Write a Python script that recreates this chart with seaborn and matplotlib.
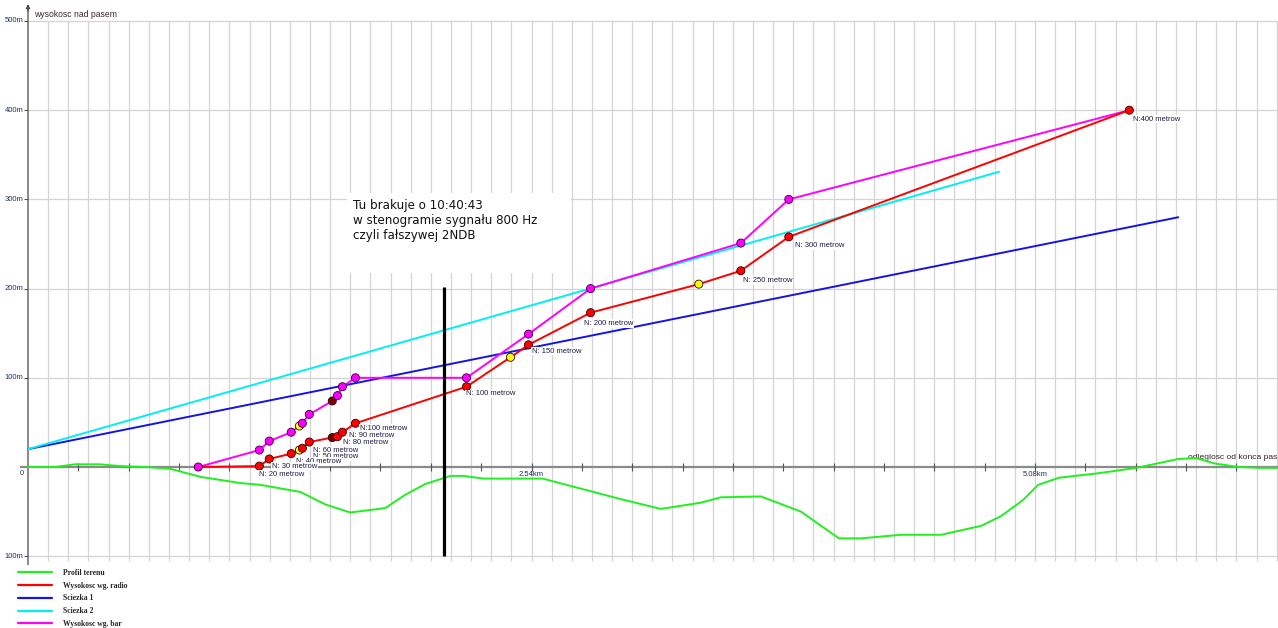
import matplotlib
matplotlib.use("Agg")
import matplotlib.pyplot as plt
import seaborn as sns
import pandas as pd
from matplotlib.patches import Rectangle

# Terrain profile: distance from runway end [m] / height relative to runway [m]
terrain_x = [0, 136, 237, 364, 465, 591, 717, 869, 1071, 1172, 1374, 1500, 1626,
             1803, 1904, 2005, 2131, 2197, 2298, 2596, 2990, 3192, 3394, 3495,
             3697, 3899, 4091, 4202, 4404, 4606, 4808, 4909, 5020, 5096, 5202,
             5399, 5591, 5803, 5894, 5985, 6106, 6207, 6313]
terrain_h = [0, 0, 3, 3, 1, 0, -2, -11, -18, -20, -28, -42, -51,
             -46, -31, -19, -10, -10, -13, -13, -36, -47, -40, -34,
             -33, -50, -80, -80, -76, -76, -66, -55, -37, -20, -12,
             -7, -1, 9, 10, 4, 0, -1, -1]

# Height from radio altimeter
radio_x = [859, 1167, 1217, 1328, 1369, 1384, 1419, 1535, 1561, 1586, 1652,
           2212, 2434, 2525, 2838, 3384, 3596, 3838, 5556]
radio_h = [0, 1, 9, 15, 19, 21, 28, 33, 34, 39, 49,
           90, 123, 137, 173, 205, 220, 258, 400]
radio_kind = ["-", "n", "n", "n", "y", "n", "n", "d", "n", "n", "n",
              "n", "y", "n", "n", "y", "n", "n", "n"]

# Height from barometric altimeter
bar_x = [859, 1167, 1217, 1328, 1369, 1384, 1419, 1535, 1561, 1586, 1652,
         2212, 2525, 2838, 3596, 3838, 5556]
bar_h = [0, 19, 29, 39, 46, 49, 59, 74, 80, 90, 100,
         100, 149, 200, 251, 300, 400]
bar_kind = ["n", "n", "n", "n", "y", "n", "n", "d", "n", "n", "n",
            "n", "n", "n", "n", "n", "-"]

# Glide paths
path1_x = [0, 5803]
path1_h = [20, 280]
path2_x = [0, 4899]
path2_h = [20, 331]

# Navigator call-outs
callout_text = ["N:400 metrow", "N: 300 metrow", "N: 250 metrow", "N: 200 metrow",
                "N: 150 metrow", "N: 100 metrow", "N:100 metrow", "N: 90 metrow",
                "N: 80 metrow", "N: 60 metrow", "N: 50 metrow", "N: 40 metrow",
                "N: 30 metrow", "N: 20 metrow"]
callout_x = [5575, 3870, 3607, 2805, 2543, 2210, 1675, 1620, 1589, 1438, 1438, 1352, 1231, 1166]
callout_h = [390, 248, 209, 161, 130, 82, 43, 35, 28, 19, 12, 6, 1, -8]

y_ticks = [500, 400, 300, 200, 100, -100]
y_tick_labels = ["500m", "400m", "300m", "200m", "100m", "100m"]
x_major = [2540, 5080]
x_major_labels = ["2.54km", "5.08km"]

note_lines = ["Tu brakuje o 10:40:43", "w stenogramie sygnału 800 Hz", "czyli fałszywej 2NDB"]
missing_x = 2101

legend_labels = ["Profil terenu", "Wysokosc wg. radio", "Sciezka 1", "Sciezka 2", "Wysokosc wg. bar"]

sns.set_style("white")
plt.rcParams["font.family"] = ["DejaVu Sans"]

W, H = 1278, 628
SX, SY = 1007 / 5080, 446 / 500   # px per metre
X0, Y0 = 28, 467                  # origin in pixels

fig = plt.figure(figsize=(W / 100, H / 100), dpi=100)
ax = fig.add_axes([0, 0, 1, 1])
ax.set_xlim(-X0 / SX, (W - X0) / SX)
ax.set_ylim((Y0 - H) / SY, Y0 / SY)
ax.axis("off")

xmax = (W - X0) / SX

# grid
grid_col = "#d4d4d4"
step = 101.6
gx = [step * k for k in range(1, int(xmax / step) + 1)]
ax.vlines(gx, -105, 500, color=grid_col, lw=0.9, zorder=0)
ax.hlines([t for t in y_ticks], 0, xmax, color=grid_col, lw=0.9, zorder=0)

# axes
axis_col = "#8a8a8a"
ax.hlines(0, -40, xmax, color=axis_col, lw=1.6, zorder=1)
ax.vlines(0, -110, 515, color=axis_col, lw=1.4, zorder=1)
ax.annotate("", xy=(0, 522), xytext=(0, 508),
            arrowprops=dict(arrowstyle="->", color="#333333", lw=0.8,
                            mutation_scale=6), zorder=2)
tick_step = 254
ax.vlines([tick_step * k for k in range(1, int(xmax / tick_step) + 1)], -4, 4,
          color="#555555", lw=0.8, zorder=2)
ax.hlines(y_ticks, -22, 0, color="#555555", lw=0.8, zorder=2)

lab_col = "#1f2f6a"
for t, s in zip(y_ticks, y_tick_labels):
    ax.text(-22, t, s, ha="right", va="center", fontsize=5.5, color=lab_col,
            family="Liberation Sans")
ax.text(-22, -7, "0", ha="right", va="center", fontsize=5.5, color=lab_col,
        family="Liberation Sans")
for t, s in zip(x_major, x_major_labels):
    ax.text(t, -8, s, ha="center", va="center", fontsize=5.5, color=lab_col,
            family="Liberation Sans")

ax.text(30, 507, "wysokosc nad pasem", ha="left", va="center", fontsize=6.2,
        color="#3a2a2a", family="Liberation Sans")
ax.text(xmax - 3, 11, "odleglosc od konca pas", ha="right", va="center", fontsize=6.1,
        color="#3a2424", family="Liberation Sans")

# series lines
terrain = pd.DataFrame({"x": terrain_x, "h": terrain_h})
radio = pd.DataFrame({"x": radio_x, "h": radio_h, "kind": radio_kind})
bar = pd.DataFrame({"x": bar_x, "h": bar_h, "kind": bar_kind})
p1 = pd.DataFrame({"x": path1_x, "h": path1_h})
p2 = pd.DataFrame({"x": path2_x, "h": path2_h})

lw = 1.4
sns.lineplot(data=terrain, x="x", y="h", sort=False, estimator=None, color="#22ee22",
             lw=lw, ax=ax, label=legend_labels[0], zorder=3)
sns.lineplot(data=p1, x="x", y="h", sort=False, estimator=None, color="#1414e6",
             lw=lw, ax=ax, label=legend_labels[2], zorder=3)
sns.lineplot(data=p2, x="x", y="h", sort=False, estimator=None, color="#00f0f0",
             lw=lw, ax=ax, label=legend_labels[3], zorder=3)
sns.lineplot(data=bar, x="x", y="h", sort=False, estimator=None, color="#ff00ff",
             lw=lw, ax=ax, label=legend_labels[4], zorder=4)
sns.lineplot(data=radio, x="x", y="h", sort=False, estimator=None, color="#ff0000",
             lw=lw, ax=ax, label=legend_labels[1], zorder=5)

# markers
marker_pal_r = {"n": "#ff0000", "y": "#ffff00", "d": "#7a0000"}
marker_pal_b = {"n": "#ff00ff", "y": "#ffff00", "d": "#7a0000"}
rm = radio[radio["kind"] != "-"]
bm = bar[bar["kind"] != "-"]
sns.scatterplot(data=bm, x="x", y="h", hue="kind", palette=marker_pal_b, s=34,
                edgecolor="#330033", linewidth=0.6, legend=False, ax=ax, zorder=6)
sns.scatterplot(data=rm, x="x", y="h", hue="kind", palette=marker_pal_r, s=34,
                edgecolor="#330000", linewidth=0.6, legend=False, ax=ax, zorder=7)

# call-out labels
for s, x, h in zip(callout_text, callout_x, callout_h):
    ax.text(x, h, s, ha="left", va="center", fontsize=5.5, color="#1c1c44",
            family="Liberation Sans", zorder=8,
            bbox=dict(facecolor="white", edgecolor="none", pad=0.6))

# marker of the missing signal
ax.vlines(missing_x, -100, 202, color="black", lw=2.3, zorder=9)

# note box
ax.add_patch(Rectangle((1610, 217), 1130, 90, facecolor="white", edgecolor="none", zorder=2))
ax.text(1640, 301, "\n".join(note_lines), ha="left", va="top", fontsize=8.6,
        color="#111111", linespacing=1.2, zorder=10)

# legend
handles, labels = ax.get_legend_handles_labels()
order = [labels.index(l) for l in legend_labels]
leg = ax.legend([handles[i] for i in order], [labels[i] for i in order],
                loc="upper left", bbox_to_anchor=(18 / W, 1 - 569 / H),
                frameon=False, borderpad=0, borderaxespad=0,
                handlelength=4.5, handletextpad=1.4, labelspacing=0.62,
                prop=dict(family="Liberation Serif", weight="bold", size=5.5))
for line in leg.get_lines():
    line.set_linewidth(1.6)

fig.savefig("out.png", dpi=100)
